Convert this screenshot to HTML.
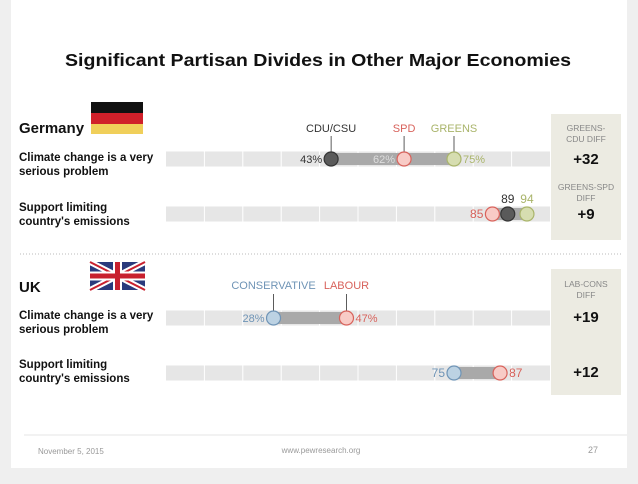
<!DOCTYPE html>
<html><head><meta charset="utf-8"><style>
body{margin:0;width:638px;height:479px;background:#efefef;overflow:hidden;font-family:"Liberation Sans",sans-serif}
</style></head><body>
<svg width="638" height="479" xmlns="http://www.w3.org/2000/svg" id="svg">
<rect x="11" y="0" width="616" height="468" fill="#fff"/>
<text x="318" y="66" text-anchor="middle" font-size="17.5" font-weight="bold" fill="#111" textLength="506" lengthAdjust="spacingAndGlyphs">Significant Partisan Divides in Other Major Economies</text>
<g><rect x="91" y="102" width="52" height="11" fill="#111"/><rect x="91" y="113" width="52" height="11" fill="#d0202a"/><rect x="91" y="124" width="52" height="10" fill="#f0cf5a"/></g>
<text x="19" y="133" font-size="15" font-weight="bold" fill="#111">Germany</text>
<g>
<rect x="90" y="262" width="55" height="28" fill="#2a3a7c"/>
<line x1="90" y1="262" x2="145" y2="290" stroke="#fff" stroke-width="6"/><line x1="145" y1="262" x2="90" y2="290" stroke="#fff" stroke-width="6"/>
<line x1="90" y1="262" x2="145" y2="290" stroke="#c8202e" stroke-width="2"/><line x1="145" y1="262" x2="90" y2="290" stroke="#c8202e" stroke-width="2"/>
<rect x="113" y="262" width="9" height="28" fill="#fff"/><rect x="90" y="271.5" width="55" height="9" fill="#fff"/>
<rect x="115" y="262" width="5" height="28" fill="#c8202e"/><rect x="90" y="273.5" width="55" height="5" fill="#c8202e"/></g>
<text x="19" y="292" font-size="15" font-weight="bold" fill="#111">UK</text>
<g font-size="11.5" font-weight="bold" fill="#111">
<text x="19" y="161"><tspan x="19">Climate change is a very</tspan><tspan x="19" dy="14">serious problem</tspan></text>
<text x="19" y="211"><tspan x="19">Support limiting</tspan><tspan x="19" dy="14">country's emissions</tspan></text>
<text x="19" y="319"><tspan x="19">Climate change is a very</tspan><tspan x="19" dy="14">serious problem</tspan></text>
<text x="19" y="368"><tspan x="19">Support limiting</tspan><tspan x="19" dy="14">country's emissions</tspan></text>
</g>
<line x1="20" y1="254" x2="622" y2="254" stroke="#bbb" stroke-dasharray="1,2"/>
<rect x="551" y="114" width="70" height="126" fill="#ecebe2"/>
<rect x="551" y="269" width="70" height="126" fill="#ecebe2"/>
<g text-anchor="middle" fill="#888" font-size="8.5">
<text x="586" y="131">GREENS-</text><text x="586" y="142">CDU DIFF</text>
<text x="586" y="190">GREENS-SPD</text><text x="586" y="201">DIFF</text>
<text x="586" y="287">LAB-CONS</text><text x="586" y="298">DIFF</text>
</g>
<g text-anchor="middle" fill="#111" font-size="15" font-weight="bold">
<text x="586" y="164">+32</text>
<text x="586" y="219">+9</text>
<text x="586" y="322">+19</text>
<text x="586" y="377">+12</text>
</g>
<g id="plot"></g>
<line x1="24" y1="435" x2="627" y2="435" stroke="#e4e4e4"/>
<text x="38" y="454" font-size="8" fill="#999">November 5, 2015</text>
<text x="321" y="453" font-size="8" fill="#999" text-anchor="middle">www.pewresearch.org</text>
<text x="598" y="453" font-size="9" fill="#999" text-anchor="end">27</text>
</svg>
<script>
const rowNames=["de-climate","de-emissions","uk-climate","uk-emissions"];
const rowY=[159,214,318,373];
const deClimate=[43,62,75];
const deEmissions=[89,85,94];
const ukClimate=[28,47];
const ukEmissions=[75,87];
const X0=166,X1=550;
const NS="http://www.w3.org/2000/svg";
const g=document.getElementById('plot');
function x(v){return X0+(X1-X0)*v/100;}
function mk(tag,attrs,name){const e=document.createElementNS(NS,tag);for(const k in attrs)e.setAttribute(k,attrs[k]);


g.appendChild(e);return e;}
function txt(t,xx,yy,fill,anchor,name,size){const e=mk('text',{x:xx,y:yy,fill:fill,'text-anchor':anchor,'font-size':size||11},name);e.textContent=t;return e;}
const sty={cdu:['#5a5a5a','#333'],spd:['#f8cbc6','#d8625b'],grn:['#d6ddb0','#a9b46a'],con:['#bcd2e3','#6f94b6'],lab:['#f8cbc6','#d8625b']};
rowY.forEach((y,i)=>{
  mk('rect',{x:X0,y:y-7.5,width:X1-X0,height:15,fill:'#e6e6e6'},'track-'+rowNames[i]);
  for(let t=1;t<10;t++)mk('line',{x1:x(t*10),x2:x(t*10),y1:y-7.5,y2:y+7.5,stroke:'#fff','stroke-width':1},'gridline');
});
function seg(a,b,y,n){mk('rect',{x:x(Math.min(a,b)),y:y-6,width:Math.abs(b-a)*(X1-X0)/100,height:12,fill:'#a9a9a9'},n);}
function dot(v,y,s,n){mk('circle',{cx:x(v),cy:y,r:7,fill:sty[s][0],stroke:sty[s][1],'stroke-width':1.2},n);}
function lead(v,y1,y2,n){mk('line',{x1:x(v),x2:x(v),y1:y1,y2:y2,stroke:'#333','stroke-width':0.8},n);}
// Germany climate
let y=rowY[0];
seg(Math.min(...deClimate),Math.max(...deClimate),y,'range-de-climate');
lead(deClimate[0],136,152,'leader-cdu');lead(deClimate[1],136,152,'leader-spd');lead(deClimate[2],136,152,'leader-greens');
txt('CDU/CSU',x(deClimate[0]),132,'#333','middle','label-cdu');
txt('SPD',x(deClimate[1]),132,'#d8625b','middle','label-spd');
txt('GREENS',x(deClimate[2]),132,'#a9b46a','middle','label-greens');
dot(deClimate[0],y,'cdu','dot-de-climate-cdu');dot(deClimate[1],y,'spd','dot-de-climate-spd');dot(deClimate[2],y,'grn','dot-de-climate-greens');
txt(deClimate[0]+'%',x(deClimate[0])-9,y+4,'#333','end','value-de-climate-cdu');
txt(deClimate[1]+'%',x(deClimate[1])-9,y+4,'#ddd','end','value-de-climate-spd');
txt(deClimate[2]+'%',x(deClimate[2])+9,y+4,'#a9b46a','start','value-de-climate-greens');
// Germany emissions
y=rowY[1];
seg(Math.min(...deEmissions),Math.max(...deEmissions),y,'range-de-emissions');
dot(deEmissions[1],y,'spd','dot-de-emissions-spd');dot(deEmissions[0],y,'cdu','dot-de-emissions-cdu');dot(deEmissions[2],y,'grn','dot-de-emissions-greens');
txt(String(deEmissions[1]),x(deEmissions[1])-9,y+4,'#d8625b','end','value-de-emissions-spd',12);
txt(String(deEmissions[0]),x(deEmissions[0]),y-11,'#333','middle','value-de-emissions-cdu',12);
txt(String(deEmissions[2]),x(deEmissions[2]),y-11,'#a9b46a','middle','value-de-emissions-greens',12);
// UK climate
y=rowY[2];
seg(ukClimate[0],ukClimate[1],y,'range-uk-climate');
lead(ukClimate[0],294,311,'leader-con');lead(ukClimate[1],294,311,'leader-lab');
txt('CONSERVATIVE',x(ukClimate[0]),289,'#6f94b6','middle','label-conservative');
txt('LABOUR',x(ukClimate[1]),289,'#d8625b','middle','label-labour');
dot(ukClimate[0],y,'con','dot-uk-climate-con');dot(ukClimate[1],y,'lab','dot-uk-climate-lab');
txt(ukClimate[0]+'%',x(ukClimate[0])-9,y+4,'#6f94b6','end','value-uk-climate-con');
txt(ukClimate[1]+'%',x(ukClimate[1])+9,y+4,'#d8625b','start','value-uk-climate-lab');
// UK emissions
y=rowY[3];
seg(ukEmissions[0],ukEmissions[1],y,'range-uk-emissions');
dot(ukEmissions[0],y,'con','dot-uk-emissions-con');dot(ukEmissions[1],y,'lab','dot-uk-emissions-lab');
txt(String(ukEmissions[0]),x(ukEmissions[0])-9,y+4,'#6f94b6','end','value-uk-emissions-con',12);
txt(String(ukEmissions[1]),x(ukEmissions[1])+9,y+4,'#d8625b','start','value-uk-emissions-lab',12);
</script>
</body></html>
